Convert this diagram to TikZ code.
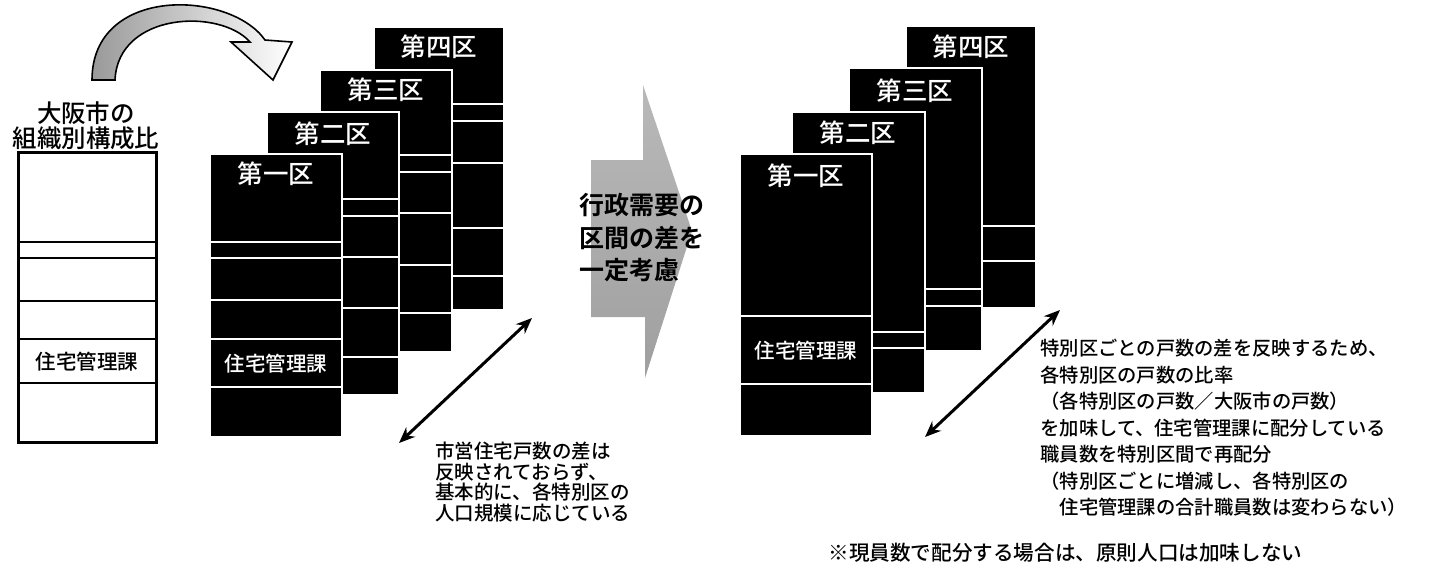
\documentclass[tikz,border=0pt]{standalone}
\usepackage{fontspec}
\newfontfamily\jp{Noto Sans CJK JP}[UprightFont=* Medium, BoldFont=* Bold]
\usepackage{tikz}
\usetikzlibrary{positioning,calc,arrows.meta,shapes.misc}
\usepackage{xcolor}

\tikzset{
  seg/.style={fill=black, draw=white, line width=1.2pt},
  orgline/.style={draw=black, line width=0.8pt},
  kutitle/.style={text=white, inner sep=0pt, font=\jp\fontsize{12.75pt}{14pt}\selectfont},
  katext/.style={inner sep=0pt, font=\jp\fontsize{10.25pt}{12pt}\selectfont},
  note/.style={anchor=north west, align=left, inner sep=0pt},
  dblarrow/.style={line width=1.5pt, {Stealth[length=8pt,width=6.5pt]}-{Stealth[length=8pt,width=6.5pt]}},
}

\begin{document}
\begin{tikzpicture}[x=0.5pt,y=-0.5pt]
      \useasboundingbox (0,0) rectangle (1447,570);

      \draw[line width=0.8pt, left color=gray!80, right color=white]
        (92,80) .. controls (92,-15) and (230,-10) .. (265,40) -- (292,42) -- (273,80)
        -- (231,42) -- (250,42) .. controls (220,8) and (118,12) .. (115,80) -- cycle;

      \node[align=center, inner sep=0pt, font=\jp\fontsize{12.25pt}{12.75pt}\selectfont] (osaka) at (86,125.5) {大阪市の\\組織別構成比};
      \draw[line width=1.5pt] (18,152) rectangle (156,442);
      \draw[orgline] (18,242) -- (156,242) (18,258) -- (156,258) (18,301) -- (156,301)
        (18,339) -- (156,339) (18,383) -- (156,383);
      \node[katext] (orgjutaku) at (87,362) {住宅管理課};

      \draw[seg] (374,27) rectangle (504,310) (374,104) -- (504,104) (374,121) -- (504,121)
        (374,163) -- (504,163) (374,228) -- (504,228) (374,276) -- (504,276);
      \node[kutitle] (ku4) at (439,47) {第四区};
      \draw[seg] (320,70) rectangle (452,352) (320,155) -- (452,155) (320,172) -- (452,172)
        (320,213) -- (452,213) (320,265) -- (452,265) (320,313) -- (452,313);
      \node[kutitle] (ku3) at (386,90) {第三区};
      \draw[seg] (267,112) rectangle (399,395) (267,199) -- (399,199) (267,216) -- (399,216)
        (267,257) -- (399,257) (267,308) -- (399,308) (267,357) -- (399,357);
      \node[kutitle] (ku2) at (333,134) {第二区};
      \draw[seg] (210,154) rectangle (342,437) (210,242) -- (342,242) (210,258) -- (342,258)
        (210,300) -- (342,300) (210,339) -- (342,339) (210,387) -- (342,387);
      \node[kutitle] (ku1) at (276,174) {第一区};
      \node[katext, text=white] (jutaku1) at (276,364) {住宅管理課};

      \coordinate (sa1) at (399,443);
      \coordinate (sa2) at (532,318);
      \draw[dblarrow] (sa1) -- (sa2);
      \node[note, font=\jp\fontsize{9.75pt}{10.2pt}\selectfont] (mae) at (435,442)
        {市営住宅戸数の差は\\反映されておらず、\\基本的に、各特別区の\\人口規模に応じている};

      \shade[top color=gray!55, bottom color=gray!75] (591,160) -- (643,160) -- (643,85)
        -- (692,231) -- (645,378) -- (645,317) -- (591,317) -- cycle;
      \node[anchor=west, align=left, inner sep=0pt, font=\jp\bfseries\fontsize{12.5pt}{16.25pt}\selectfont] (gyosei) at (579,238)
        {行政需要の\\区間の差を\\一定考慮};

      \draw[seg] (906,26) rectangle (1036,308) (906,226) -- (1036,226) (906,261) -- (1036,261);
      \node[kutitle] (rku4) at (971,47) {第四区};
      \draw[seg] (849,68) rectangle (982,351) (849,289) -- (982,289) (849,306) -- (982,306);
      \node[kutitle] (rku3) at (915,91) {第三区};
      \draw[seg] (792,112) rectangle (925,393) (792,332) -- (925,332) (792,348) -- (925,348);
      \node[kutitle] (rku2) at (858,133) {第二区};
      \draw[seg] (740,154) rectangle (872,436) (740,316) -- (872,316) (740,384) -- (872,384);
      \node[kutitle] (rku1) at (806,176) {第一区};
      \node[katext, text=white] (rjutaku1) at (806,351) {住宅管理課};

      \coordinate (sb1) at (925,437);
      \coordinate (sb2) at (1060,310);
      \draw[dblarrow] (sb1) -- (sb2);
      \node[note, font=\jp\fontsize{9.65pt}{13.25pt}\selectfont] (ato) at (1040,339)
        {特別区ごとの戸数の差を反映するため、\\各特別区の戸数の比率\\（各特別区の戸数／大阪市の戸数）\\を加味して、住宅管理課に配分している\\職員数を特別区間で再配分\\（特別区ごとに増減し、各特別区の\\　住宅管理課の合計職員数は変わらない）};
      \node[anchor=west, inner sep=0pt, font=\jp\fontsize{10.3pt}{12pt}\selectfont] (chu) at (828,553)
        {※現員数で配分する場合は、原則人口は加味しない};

    \end{tikzpicture}
\end{document}
